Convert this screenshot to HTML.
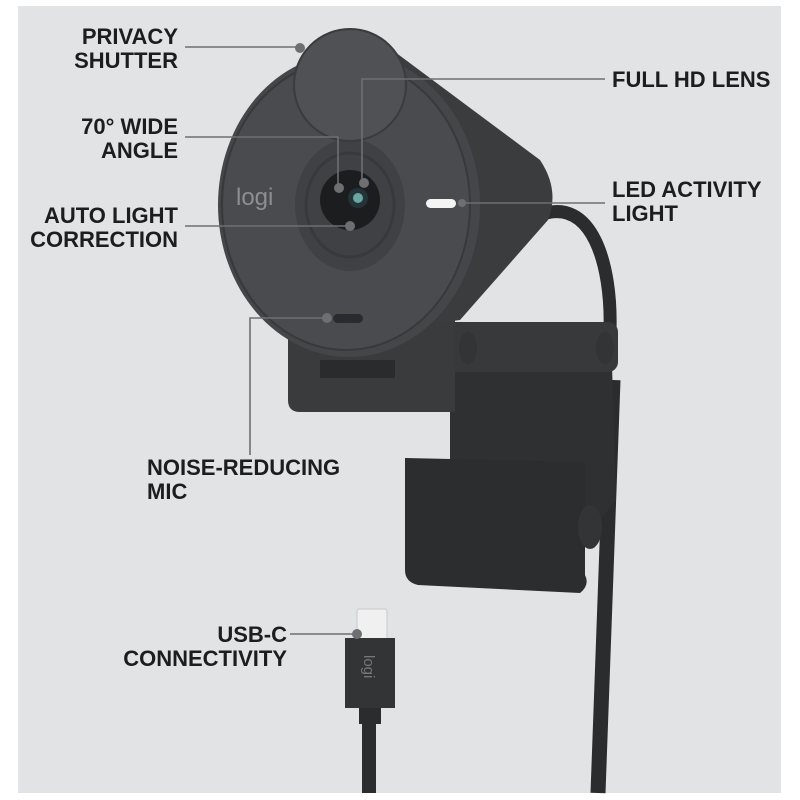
<!DOCTYPE html>
<html><head><meta charset="utf-8"><style>
html,body{margin:0;padding:0;background:#fff;}
svg{display:block}
text{font-family:"Liberation Sans",sans-serif;font-weight:bold;font-size:22px;fill:#1d1d1f;}
</style></head><body>
<svg width="800" height="800" viewBox="0 0 800 800">
<rect x="0" y="0" width="800" height="800" fill="#fff"/>
<rect x="18" y="6" width="763" height="787" fill="#e2e3e5"/>
<!-- cable loop -->
<path d="M540,215 C592,195 612,265 610,330" stroke="#2b2c2e" stroke-width="13" fill="none"/>
<!-- down cable -->
<path d="M613,380 L598,793" stroke="#2b2c2e" stroke-width="15" fill="none"/>
<!-- back plate -->
<path d="M450,370 L612,365 L616,500 L600,520 L450,515 Z" fill="#2f3032"/>
<!-- hinge bar -->
<rect x="440" y="322" width="178" height="50" rx="10" fill="#38393b"/>
<ellipse cx="468" cy="348" rx="9" ry="16" fill="#333436"/>
<ellipse cx="605" cy="348" rx="9" ry="16" fill="#333436"/>
<!-- base under face -->
<path d="M288,320 L455,320 L455,412 L300,412 Q288,412 288,400 Z" fill="#3a3b3d"/>
<rect x="320" y="360" width="75" height="18" fill="#2a2b2d"/>
<!-- front clip -->
<path d="M405,458 L585,462 L585,575 Q590,585 580,593 L418,585 Q405,582 405,570 Z" fill="#2c2d2f"/>
<ellipse cx="590" cy="527" rx="12" ry="22" fill="#333436"/>
<!-- cone body -->
<path d="M395,52 L540,160 Q560,190 548,220 L460,320 L380,330 Z" fill="#3b3c3e"/>
<!-- face -->
<ellipse cx="349" cy="205" rx="131" ry="152" fill="#45464a"/>
<ellipse cx="346" cy="205" rx="124" ry="145" fill="#4a4b4e" stroke="#38393b" stroke-width="2"/>
<!-- lens ring -->
<ellipse cx="350" cy="205" rx="55" ry="66" fill="#404144"/>
<ellipse cx="350" cy="205" rx="44" ry="52" fill="none" stroke="#38393b" stroke-width="3"/>
<circle cx="350" cy="200" r="30" fill="#1c1d1f"/>
<circle cx="358" cy="198" r="10" fill="#24333a"/>
<circle cx="358" cy="198" r="5" fill="#6aa7a0"/>
<!-- shutter -->
<circle cx="350" cy="85" r="56" fill="#505154" stroke="#3a3b3d" stroke-width="2"/>
<!-- logo -->
<text x="236" y="205" style="font-size:24px;font-weight:normal;fill:#8d8e91">logi</text>
<!-- LED -->
<rect x="426" y="199" width="30" height="9" rx="4.5" fill="#f4f4f4"/>
<!-- mic -->
<rect x="333" y="314" width="30" height="9" rx="4.5" fill="#2a2b2d"/>
<!-- USB-C -->
<rect x="357" y="609" width="30" height="33" rx="2" fill="#f0f0f0" stroke="#c8c8ca"/>
<rect x="345" y="638" width="50" height="70" fill="#333436"/>
<rect x="359" y="708" width="22" height="16" fill="#2b2c2e"/>
<rect x="362" y="720" width="14" height="73" fill="#2b2c2e"/>
<text x="0" y="0" transform="translate(364,655) rotate(90)" style="font-size:15px;font-weight:normal;fill:#777">logi</text>
<!-- connectors -->
<g stroke="#6e6f72" stroke-width="1.6" fill="none">
<path d="M185,47 L298,47"/>
<path d="M185,137 L338,137 L338,188"/>
<path d="M185,226 L350,226"/>
<path d="M605,79 L362,79 L362,183"/>
<path d="M605,203 L462,203"/>
<path d="M250,455 L250,318 L327,318"/>
<path d="M290,634 L357,634"/>
</g>
<g fill="#6e6f72">
<circle cx="300" cy="48" r="5"/>
<circle cx="339" cy="188" r="5"/>
<circle cx="350" cy="226" r="5"/>
<circle cx="364" cy="183" r="5"/>
<circle cx="462" cy="203" r="4"/>
<circle cx="327" cy="318" r="5"/>
<circle cx="357" cy="634" r="5"/>
</g>
<!-- labels -->
<g text-anchor="end">
<text x="178" y="44">PRIVACY</text>
<text x="178" y="68">SHUTTER</text>
<text x="178" y="134">70° WIDE</text>
<text x="178" y="158">ANGLE</text>
<text x="178" y="223">AUTO LIGHT</text>
<text x="178" y="247">CORRECTION</text>
<text x="287" y="642">USB-C</text>
<text x="287" y="666">CONNECTIVITY</text>
</g>
<text x="612" y="87">FULL HD LENS</text>
<text x="612" y="197">LED ACTIVITY</text>
<text x="612" y="221">LIGHT</text>
<text x="147" y="475">NOISE-REDUCING</text>
<text x="147" y="499">MIC</text>
</svg>
</body></html>
